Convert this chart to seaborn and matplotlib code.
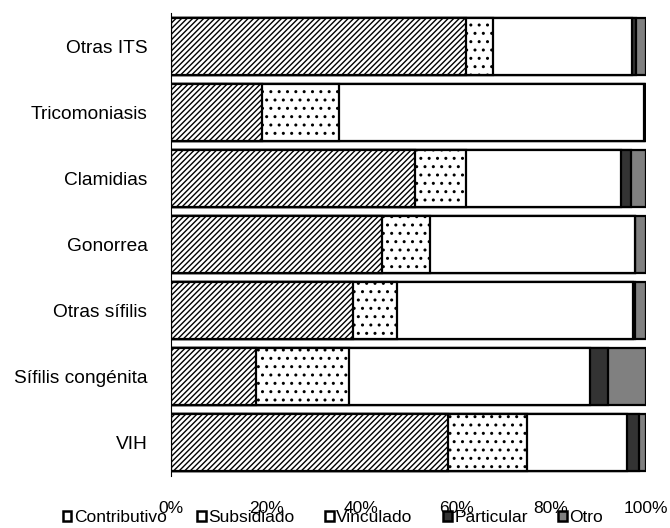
import matplotlib
matplotlib.use("Agg")
import matplotlib.pyplot as plt
from matplotlib.patches import Patch
import seaborn as sns
import numpy as np
import pandas as pd

categories = ["Otras ITS", "Tricomoniasis", "Clamidias", "Gonorrea",
              "Otras sífilis", "Sífilis congénita", "VIH"]
series = ["Contributivo", "Subsidiado", "Vinculado", "Particular", "Otro"]
contributivo = [62.0, 19.1, 51.3, 44.4, 38.3, 17.9, 58.3]
subsidiado = [5.7, 16.3, 10.7, 10.2, 9.3, 19.5, 16.7]
vinculado = [29.3, 64.2, 32.7, 43.1, 49.6, 50.9, 21.0]
particular = [0.8, 0.4, 2.1, 0.0, 0.5, 3.8, 2.6]
otro = [2.2, 0.0, 3.2, 2.3, 2.3, 7.9, 1.4]
xticks = [0, 20, 40, 60, 80, 100]
xticklabels = ["0%", "20%", "40%", "60%", "80%", "100%"]

colors = ["white", "white", "white", "#333333", "#808080"]
hatches = ["//////", "..", "", "", ""]

sns.set_style("white")
plt.rcParams["font.family"] = ["Liberation Sans", "DejaVu Sans"]
plt.rcParams["hatch.linewidth"] = 1.0
plt.rcParams["text.color"] = "black"
plt.rcParams["xtick.color"] = "black"
plt.rcParams["ytick.color"] = "black"

vals = np.array([contributivo, subsidiado, vinculado, particular, otro])
cum = np.cumsum(vals, axis=0)

fig = plt.figure(figsize=(6.70, 5.28), dpi=100)
ax = fig.add_axes([171 / 670, 1 - 476 / 528, 475 / 670, (476 - 13) / 528])

for k in range(len(series) - 1, -1, -1):
    df = pd.DataFrame({"cat": categories, "val": cum[k]})
    n0 = len(ax.patches)
    sns.barplot(data=df, x="val", y="cat", color=colors[k], saturation=1,
                edgecolor="black", linewidth=1.6, width=0.86, ax=ax, orient="h")
    for p in ax.patches[n0:]:
        p.set_facecolor(colors[k])
        if hatches[k]:
            p.set_hatch(hatches[k])

ax.set_xlim(0, 100)
ax.set_ylim(6.5, -0.5)
ax.set_xlabel("")
ax.set_ylabel("")
ax.set_xticks(xticks)
ax.set_xticklabels(xticklabels, fontsize=12.5)
ax.tick_params(axis="x", length=0, pad=18, labelcolor="black")
ax.tick_params(axis="y", which="major", length=0, pad=17, labelsize=13.8, labelcolor="black")
ax.set_yticks(np.arange(-0.5, 7.0, 1.0), minor=True)
ax.tick_params(axis="y", which="minor", length=5, width=0.8, direction="out", color="black")
for s in ["top", "right", "bottom"]:
    ax.spines[s].set_visible(False)
ax.spines["left"].set_color("black")
ax.spines["left"].set_linewidth(0.8)

handles = [Patch(facecolor=colors[i], edgecolor="black", linewidth=1.8)
           for i in range(len(series))]
fig.legend(handles, series, loc="center", bbox_to_anchor=(0.497, 0.019),
           bbox_transform=fig.transFigure, ncol=5, frameon=False, fontsize=12.5,
           handlelength=0.5, handleheight=0.5, handletextpad=0.15, columnspacing=1.75,
           borderpad=0, borderaxespad=0)

fig.savefig("out.png", dpi=100)
